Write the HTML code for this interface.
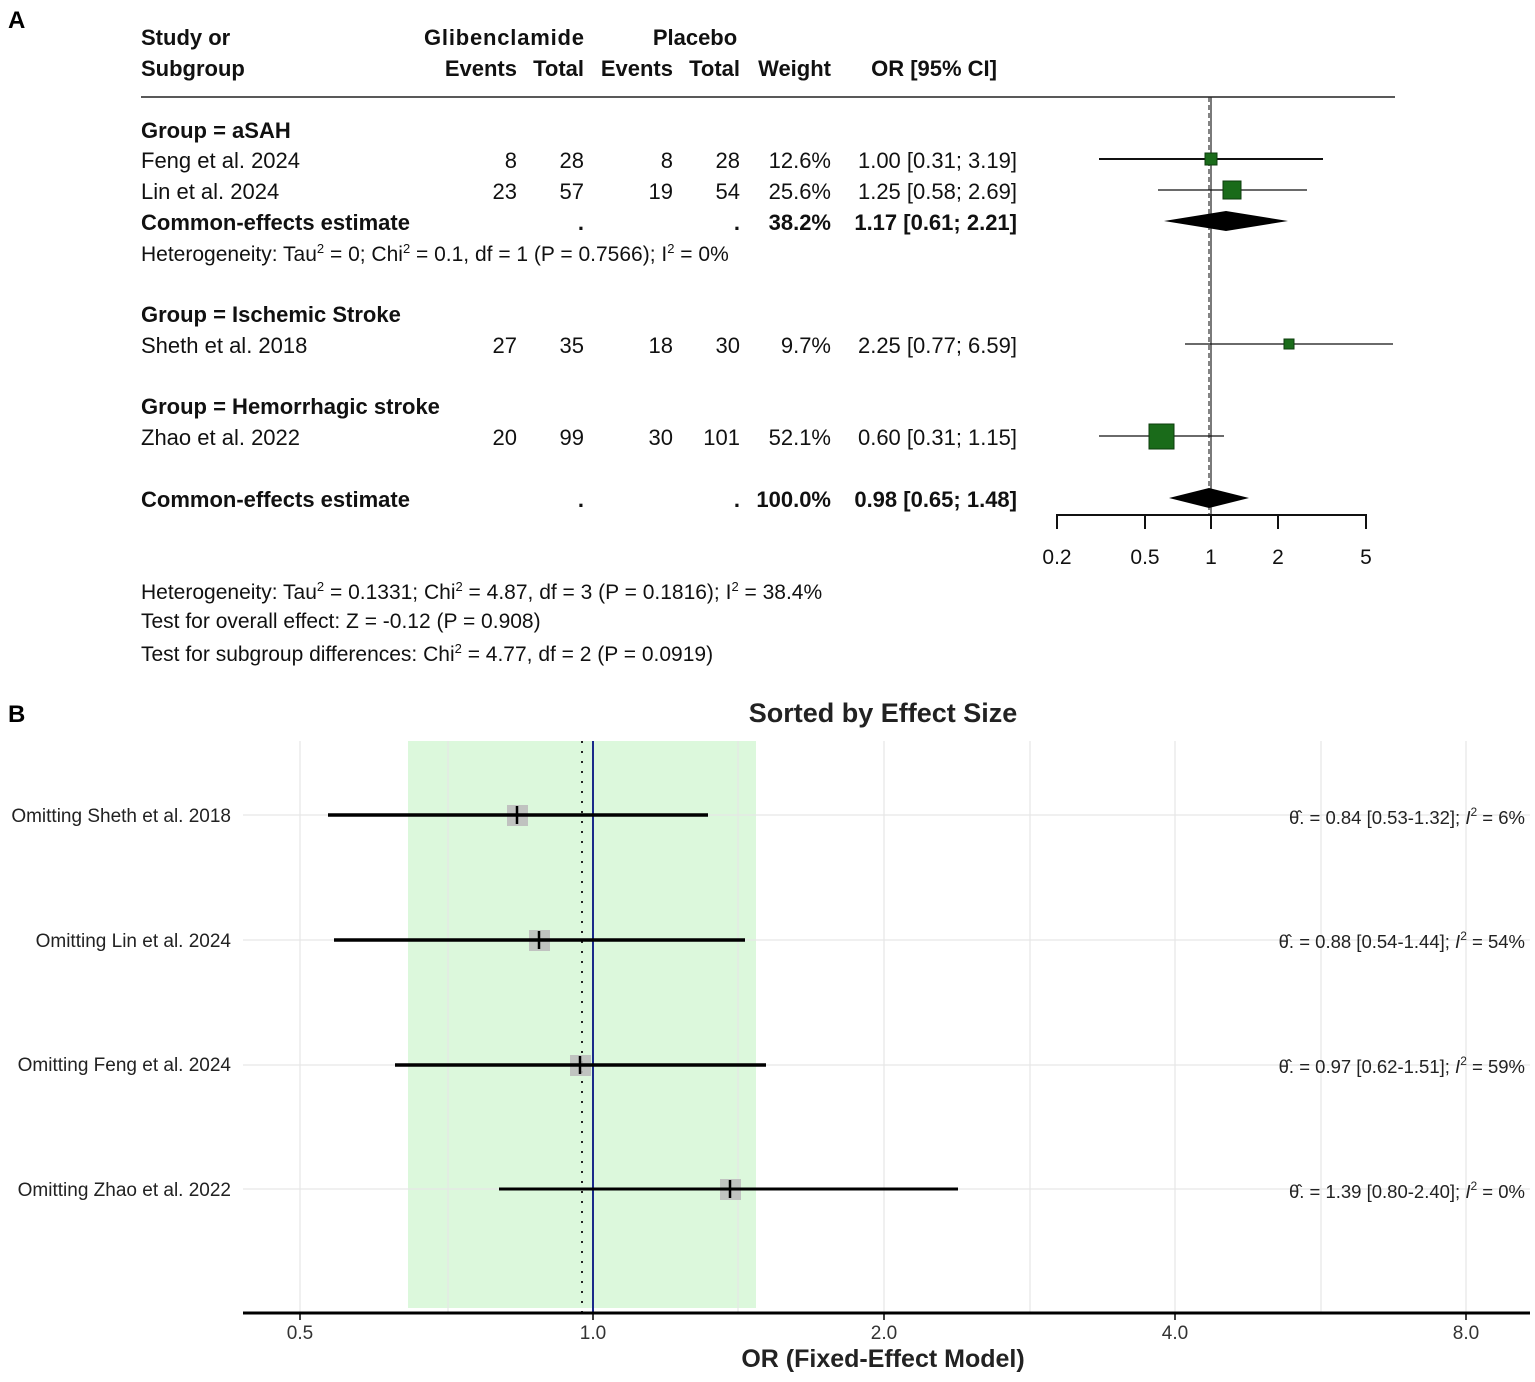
<!DOCTYPE html>
<html><head><meta charset="utf-8"><style>
html,body{margin:0;padding:0;background:#fff;}
svg{display:block;font-family:"Liberation Sans",Arial,sans-serif;}
</style></head><body>
<svg width="1535" height="1382" viewBox="0 0 1535 1382" xmlns="http://www.w3.org/2000/svg">
<rect width="1535" height="1382" fill="#fff"/>
<!-- Panel A -->
<text x="8" y="28" font-size="24" font-weight="bold">A</text>
<g font-size="22" font-weight="bold" fill="#111">
<text x="141" y="45">Study or</text>
<text x="141" y="76">Subgroup</text>
<text x="504" y="45" text-anchor="middle" textLength="160">Glibenclamide</text>
<text x="695" y="45" text-anchor="middle">Placebo</text>
<text x="517" y="76" text-anchor="end">Events</text>
<text x="584" y="76" text-anchor="end">Total</text>
<text x="673" y="76" text-anchor="end">Events</text>
<text x="740" y="76" text-anchor="end">Total</text>
<text x="831" y="76" text-anchor="end">Weight</text>
<text x="997" y="76" text-anchor="end">OR [95% CI]</text>
</g>
<line x1="141" y1="97" x2="1395" y2="97" stroke="#222" stroke-width="1.5"/>
<g font-size="22" fill="#111">
<text x="141" y="138" font-weight="bold">Group = aSAH</text>
<text x="141" y="168">Feng et al. 2024</text>
<text x="517" y="168" text-anchor="end">8</text><text x="584" y="168" text-anchor="end">28</text><text x="673" y="168" text-anchor="end">8</text><text x="740" y="168" text-anchor="end">28</text><text x="831" y="168" text-anchor="end">12.6%</text><text x="1017" y="168" text-anchor="end">1.00 [0.31; 3.19]</text>
<text x="141" y="199">Lin et al. 2024</text>
<text x="517" y="199" text-anchor="end">23</text><text x="584" y="199" text-anchor="end">57</text><text x="673" y="199" text-anchor="end">19</text><text x="740" y="199" text-anchor="end">54</text><text x="831" y="199" text-anchor="end">25.6%</text><text x="1017" y="199" text-anchor="end">1.25 [0.58; 2.69]</text>
<g font-weight="bold"><text x="141" y="230">Common-effects estimate</text><text x="584" y="230" text-anchor="end">.</text><text x="740" y="230" text-anchor="end">.</text><text x="831" y="230" text-anchor="end">38.2%</text><text x="1017" y="230" text-anchor="end">1.17 [0.61; 2.21]</text></g>
<text x="141" y="261" font-size="21">Heterogeneity: Tau<tspan font-size="13" dy="-8">2</tspan><tspan dy="8"> = 0; Chi</tspan><tspan font-size="13" dy="-8">2</tspan><tspan dy="8"> = 0.1, df = 1 (P = 0.7566); I</tspan><tspan font-size="13" dy="-8">2</tspan><tspan dy="8"> = 0%</tspan></text>
<text x="141" y="322" font-weight="bold">Group = Ischemic Stroke</text>
<text x="141" y="353">Sheth et al. 2018</text>
<text x="517" y="353" text-anchor="end">27</text><text x="584" y="353" text-anchor="end">35</text><text x="673" y="353" text-anchor="end">18</text><text x="740" y="353" text-anchor="end">30</text><text x="831" y="353" text-anchor="end">9.7%</text><text x="1017" y="353" text-anchor="end">2.25 [0.77; 6.59]</text>
<text x="141" y="414" font-weight="bold">Group = Hemorrhagic stroke</text>
<text x="141" y="445">Zhao et al. 2022</text>
<text x="517" y="445" text-anchor="end">20</text><text x="584" y="445" text-anchor="end">99</text><text x="673" y="445" text-anchor="end">30</text><text x="740" y="445" text-anchor="end">101</text><text x="831" y="445" text-anchor="end">52.1%</text><text x="1017" y="445" text-anchor="end">0.60 [0.31; 1.15]</text>
<g font-weight="bold"><text x="141" y="507">Common-effects estimate</text><text x="584" y="507" text-anchor="end">.</text><text x="740" y="507" text-anchor="end">.</text><text x="831" y="507" text-anchor="end">100.0%</text><text x="1017" y="507" text-anchor="end">0.98 [0.65; 1.48]</text></g>
<g font-size="21">
<text x="141" y="599">Heterogeneity: Tau<tspan font-size="13" dy="-8">2</tspan><tspan dy="8"> = 0.1331; Chi</tspan><tspan font-size="13" dy="-8">2</tspan><tspan dy="8"> = 4.87, df = 3 (P = 0.1816); I</tspan><tspan font-size="13" dy="-8">2</tspan><tspan dy="8"> = 38.4%</tspan></text>
<text x="141" y="628">Test for overall effect: Z = -0.12 (P = 0.908)</text>
<text x="141" y="661">Test for subgroup differences: Chi<tspan font-size="13" dy="-8">2</tspan><tspan dy="8"> = 4.77, df = 2 (P = 0.0919)</tspan></text>
</g>
</g>
<!-- forest graphics -->
<line x1="1211" y1="97" x2="1211" y2="515" stroke="#222" stroke-width="1.2"/>
<line x1="1209" y1="97" x2="1209" y2="515" stroke="#333" stroke-width="1.2" stroke-dasharray="5,3"/>
<line x1="1099" y1="159" x2="1323" y2="159" stroke="#111" stroke-width="2"/>
<rect x="1205" y="153" width="12" height="12" fill="#1a6b1a" stroke="#0c3d0c"/>
<line x1="1158" y1="190" x2="1307" y2="190" stroke="#111" stroke-width="1.3"/>
<rect x="1223" y="181" width="18" height="18" fill="#1a6b1a" stroke="#0c3d0c"/>
<polygon points="1164,221 1226,211 1288,221 1226,231" fill="#000"/>
<line x1="1185" y1="344" x2="1393" y2="344" stroke="#111" stroke-width="1.3"/>
<rect x="1284" y="339" width="10" height="10" fill="#1a6b1a" stroke="#0c3d0c"/>
<line x1="1099" y1="436" x2="1224" y2="436" stroke="#111" stroke-width="1.3"/>
<rect x="1149" y="424" width="25" height="25" fill="#1a6b1a" stroke="#0c3d0c"/>
<polygon points="1169,498 1209,488 1249,498 1209,508" fill="#000"/>
<line x1="1056" y1="515" x2="1367" y2="515" stroke="#111" stroke-width="2"/>
<g stroke="#111" stroke-width="2"><line x1="1057" y1="514" x2="1057" y2="529"/><line x1="1145" y1="514" x2="1145" y2="529"/><line x1="1211" y1="514" x2="1211" y2="529"/><line x1="1278" y1="514" x2="1278" y2="529"/><line x1="1366" y1="514" x2="1366" y2="529"/></g>
<g font-size="21" text-anchor="middle" fill="#111"><text x="1057" y="564">0.2</text><text x="1145" y="564">0.5</text><text x="1211" y="564">1</text><text x="1278" y="564">2</text><text x="1366" y="564">5</text></g>

<!-- Panel B -->
<text x="8" y="722" font-size="24" font-weight="bold">B</text>
<text x="883" y="722" font-size="27" font-weight="bold" text-anchor="middle" fill="#222">Sorted by Effect Size</text>
<rect x="408" y="741" width="348" height="567" fill="#dcf8dc"/>
<g stroke="#e6e6e6" stroke-width="1.2">
<line x1="300" y1="741" x2="300" y2="1312"/><line x1="448" y1="741" x2="448" y2="1312"/><line x1="738" y1="741" x2="738" y2="1312"/><line x1="884" y1="741" x2="884" y2="1312"/><line x1="1030" y1="741" x2="1030" y2="1312"/><line x1="1175" y1="741" x2="1175" y2="1312"/><line x1="1321" y1="741" x2="1321" y2="1312"/><line x1="1466" y1="741" x2="1466" y2="1312"/>
<line x1="243" y1="815" x2="1530" y2="815"/><line x1="243" y1="940" x2="1530" y2="940"/><line x1="243" y1="1065" x2="1530" y2="1065"/><line x1="243" y1="1189" x2="1530" y2="1189"/>
</g>
<line x1="582" y1="741" x2="582" y2="1312" stroke="#222" stroke-width="2" stroke-dasharray="2,8"/>
<line x1="593" y1="741" x2="593" y2="1312" stroke="#1a2a8a" stroke-width="2"/>
<g fill="#bdbdbd" fill-opacity="0.9">
<rect x="507" y="805" width="21" height="21"/><rect x="529" y="930" width="21" height="21"/><rect x="570" y="1055" width="21" height="21"/><rect x="720" y="1179" width="21" height="21"/>
</g>
<g stroke="#000" stroke-width="3.5">
<line x1="328" y1="815" x2="708" y2="815"/><line x1="334" y1="940" x2="745" y2="940"/><line x1="395" y1="1065" x2="766" y2="1065"/><line x1="499" y1="1189" x2="958" y2="1189" stroke-width="3"/>
<line x1="517" y1="806" x2="517" y2="824" stroke-width="2.5"/><line x1="539" y1="931" x2="539" y2="949" stroke-width="2.5"/><line x1="580" y1="1056" x2="580" y2="1074" stroke-width="2.5"/><line x1="730" y1="1180" x2="730" y2="1198" stroke-width="2.5"/>
</g>
<g font-size="19" text-anchor="end" fill="#222">
<text x="231" y="822">Omitting Sheth et al. 2018</text>
<text x="231" y="947">Omitting Lin et al. 2024</text>
<text x="231" y="1071">Omitting Feng et al. 2024</text>
<text x="231" y="1196">Omitting Zhao et al. 2022</text>
</g>
<g font-size="18.5" text-anchor="end" fill="#222">
<text x="1525" y="824">θ̂. = 0.84 [0.53-1.32]; <tspan font-style="italic">I</tspan><tspan font-size="12" dy="-8">2</tspan><tspan dy="8"> =  6%</tspan></text>
<text x="1525" y="948">θ̂. = 0.88 [0.54-1.44]; <tspan font-style="italic">I</tspan><tspan font-size="12" dy="-8">2</tspan><tspan dy="8"> = 54%</tspan></text>
<text x="1525" y="1073">θ̂. = 0.97 [0.62-1.51]; <tspan font-style="italic">I</tspan><tspan font-size="12" dy="-8">2</tspan><tspan dy="8"> = 59%</tspan></text>
<text x="1525" y="1198">θ̂. = 1.39 [0.80-2.40]; <tspan font-style="italic">I</tspan><tspan font-size="12" dy="-8">2</tspan><tspan dy="8"> =  0%</tspan></text>
</g>
<line x1="243" y1="1313" x2="1530" y2="1313" stroke="#000" stroke-width="3"/>
<g stroke="#000" stroke-width="1.5"><line x1="300" y1="1313" x2="300" y2="1320"/><line x1="593" y1="1313" x2="593" y2="1320"/><line x1="884" y1="1313" x2="884" y2="1320"/><line x1="1175" y1="1313" x2="1175" y2="1320"/><line x1="1466" y1="1313" x2="1466" y2="1320"/></g>
<g font-size="19" text-anchor="middle" fill="#333"><text x="300" y="1339">0.5</text><text x="593" y="1339">1.0</text><text x="884" y="1339">2.0</text><text x="1175" y="1339">4.0</text><text x="1466" y="1339">8.0</text></g>
<text x="883" y="1367" font-size="25" font-weight="bold" text-anchor="middle" fill="#222">OR (Fixed-Effect Model)</text>
</svg>
</body></html>
